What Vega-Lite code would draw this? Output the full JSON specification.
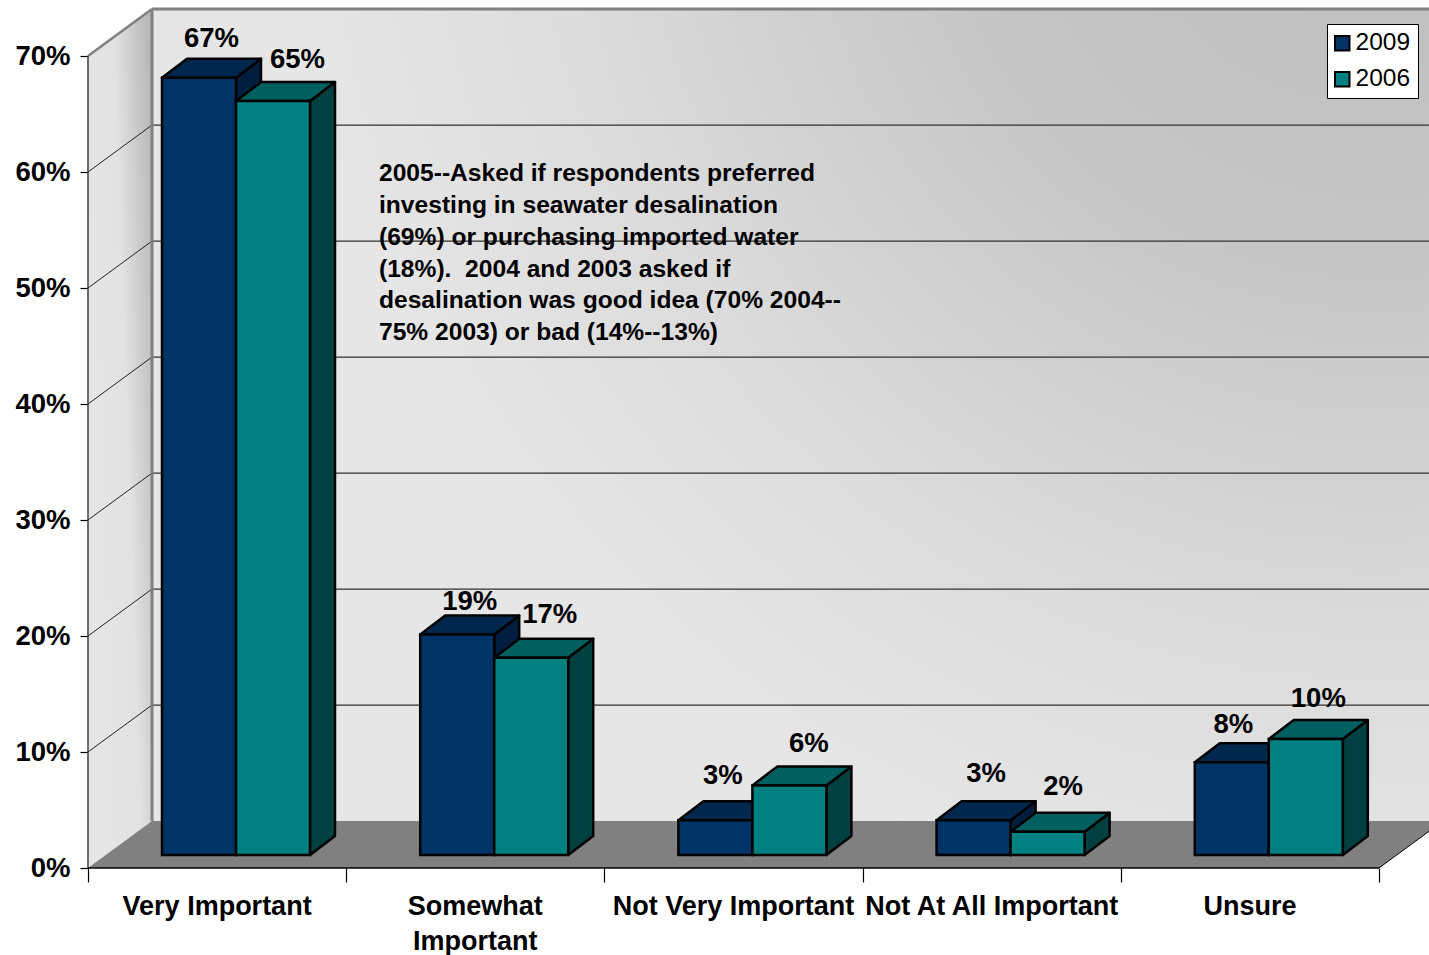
{
"$schema":"https://vega.github.io/schema/vega-lite/v6.json",
"width":1429,"height":955,
"autosize":{"type":"fit","contains":"padding"},
"padding":0,
"background":"white",
"config":{"view":{"stroke":null},"font":"Liberation Sans"},
"datasets":{
"bars":[
{"category":"Very Important","series":"2009","value":67},
{"category":"Very Important","series":"2006","value":65},
{"category":"Somewhat\nImportant","series":"2009","value":19},
{"category":"Somewhat\nImportant","series":"2006","value":17},
{"category":"Not Very Important","series":"2009","value":3},
{"category":"Not Very Important","series":"2006","value":6},
{"category":"Not At All Important","series":"2009","value":3},
{"category":"Not At All Important","series":"2006","value":2},
{"category":"Unsure","series":"2009","value":8},
{"category":"Unsure","series":"2006","value":10}
],
"frame":[{"depth":0},{"depth":1}],
"grid":[{"pct":10},{"pct":20},{"pct":30},{"pct":40},{"pct":50},{"pct":60}],
"cats":[{"category":"Very Important","idx":0},{"category":"Somewhat\nImportant","idx":1},{"category":"Not Very Important","idx":2},{"category":"Not At All Important","idx":3},{"category":"Unsure","idx":4}]
},
"data":{"name":"bars"},
"transform":[
{"calculate":"indexof(['Very Important','Somewhat\\nImportant','Not Very Important','Not At All Important','Unsure'],datum.category)","as":"idx"},
{"calculate":"datum.idx+0.2866+(datum.series==='2009'?0:0.2866)","as":"xl"},
{"calculate":"datum.xl+0.2866","as":"xr"},
{"calculate":"1.12+datum.value","as":"top"},
{"calculate":"[0,1]","as":"tt"},
{"flatten":["tt"]},
{"calculate":"datum.tt*0.0968","as":"dxb"},
{"calculate":"datum.tt*1.638","as":"dyb"},
{"calculate":"datum.xl+datum.dxb","as":"tx1"},
{"calculate":"datum.xr+datum.dxb","as":"tx2"},
{"calculate":"datum.top+datum.dyb","as":"ty"},
{"calculate":"1.12+datum.dyb","as":"by"},
{"calculate":"(datum.xl+datum.xr)/2+0.0484","as":"lx"},
{"calculate":"datum.top+1.638","as":"ly"},
{"calculate":"datum.value+'%'","as":"lab"},
{"calculate":"datum.series+'|'+datum.idx","as":"key"}
],
"layer":[
{"data":{"name":"frame"},
 "transform":[{"filter":"datum.depth===1"}],
 "mark":{"type":"rect","clip":true,"fill":{"gradient":"radial","x1":0.95,"y1":0.05,"r1":0,"x2":0.95,"y2":0.05,"r2":0.85,"stops":[{"offset":0,"color":"#bdbdbd"},{"offset":0.4,"color":"#c6c6c6"},{"offset":0.75,"color":"#dcdcdc"},{"offset":1,"color":"#e6e6e6"}]}},
 "encoding":{
  "x":{"datum":0.2479,"type":"quantitative","scale":{"domain":[-0.3408,5.1936],"nice":false,"zero":false},
    "axis":{"title":null,"values":[0,1,2,3,4,5],"labels":false,"grid":false,"domain":false,"tickColor":"#000000","tickSize":14,"tickWidth":1.2,"offset":-87,"orient":"bottom"}},
  "x2":{"datum":5.2479},
  "y":{"datum":4.05,"type":"quantitative","scale":{"domain":[-7.5,74.83],"nice":false,"zero":false},
    "axis":{"title":null,"values":[0,10,20,30,40,50,60,70],"labelExpr":"datum.value+'%'","grid":false,"domain":false,"tickColor":"#000000","tickSize":8,"tickWidth":1.2,"offset":-88,"orient":"left","labelFont":"Liberation Sans","labelFontWeight":"bold","labelFontSize":27.5,"labelColor":"#000000","labelPadding":10}},
  "y2":{"datum":74.05}
 }},
{"data":{"name":"frame"},
 "transform":[{"calculate":"datum.depth*0.2479","as":"x"},{"calculate":"datum.depth*4.05","as":"y0"},{"calculate":"70+datum.depth*4.05","as":"y1"}],
 "mark":{"type":"area","orient":"vertical","fill":{"gradient":"linear","x1":0,"y1":0.6,"x2":1,"y2":0.15,"stops":[{"offset":0,"color":"#e6e6e6"},{"offset":0.55,"color":"#e2e2e2"},{"offset":1,"color":"#b8b8b8"}]}},
 "encoding":{
  "x":{"field":"x","type":"quantitative","scale":{"domain":[-0.3408,5.1936],"nice":false,"zero":false}},
  "y":{"field":"y0","type":"quantitative","scale":{"domain":[-7.5,74.83],"nice":false,"zero":false}},
  "y2":{"field":"y1"}
 }},
{"data":{"name":"frame"},
 "transform":[{"calculate":"datum.depth*0.2479","as":"x"},{"calculate":"5+datum.depth*0.2479","as":"x1"},{"calculate":"datum.depth*4.05","as":"y0"}],
 "mark":{"type":"area","orient":"horizontal","clip":true,"fill":"#808080"},
 "encoding":{
  "y":{"field":"y0","type":"quantitative","scale":{"domain":[-7.5,74.83],"nice":false,"zero":false}},
  "x":{"field":"x","type":"quantitative","scale":{"domain":[-0.3408,5.1936],"nice":false,"zero":false}},
  "x2":{"field":"x1"}
 }},
{"data":{"name":"grid"},
 "transform":[{"calculate":"datum.pct+4.05","as":"p2"}],
 "mark":{"type":"rule","color":"#202020","strokeWidth":1},
 "encoding":{
  "x":{"datum":0,"type":"quantitative","scale":{"domain":[-0.3408,5.1936],"nice":false,"zero":false}},
  "x2":{"datum":0.2479},
  "y":{"field":"pct","type":"quantitative","scale":{"domain":[-7.5,74.83],"nice":false,"zero":false}},
  "y2":{"field":"p2"}
 }},
{"data":{"name":"grid"},
 "transform":[{"calculate":"datum.pct+4.05","as":"p2"}],
 "mark":{"type":"rule","color":"#303030","strokeWidth":1.2,"clip":true},
 "encoding":{
  "x":{"datum":0.2479,"type":"quantitative","scale":{"domain":[-0.3408,5.1936],"nice":false,"zero":false}},
  "x2":{"datum":5.2479},
  "y":{"field":"p2","type":"quantitative","scale":{"domain":[-7.5,74.83],"nice":false,"zero":false}}
 }},
{"data":{"values":[{"a":1}]},
 "mark":{"type":"rule","color":"#808080","strokeWidth":3,"clip":true},
 "encoding":{
  "x":{"datum":0.2479,"type":"quantitative","scale":{"domain":[-0.3408,5.1936],"nice":false,"zero":false}},
  "x2":{"datum":5.2479},
  "y":{"datum":74.05,"type":"quantitative","scale":{"domain":[-7.5,74.83],"nice":false,"zero":false}}
 }},
{"data":{"values":[{"a":1}]},
 "mark":{"type":"rule","color":"#808080","strokeWidth":3},
 "encoding":{
  "x":{"datum":0.2479,"type":"quantitative","scale":{"domain":[-0.3408,5.1936],"nice":false,"zero":false}},
  "y":{"datum":4.05,"type":"quantitative","scale":{"domain":[-7.5,74.83],"nice":false,"zero":false}},
  "y2":{"datum":74.05}
 }},
{"data":{"values":[{"a":1}]},
 "mark":{"type":"rule","color":"#808080","strokeWidth":2.5},
 "encoding":{
  "x":{"datum":0,"type":"quantitative","scale":{"domain":[-0.3408,5.1936],"nice":false,"zero":false}},
  "x2":{"datum":0.2479},
  "y":{"datum":70,"type":"quantitative","scale":{"domain":[-7.5,74.83],"nice":false,"zero":false}},
  "y2":{"datum":74.05}
 }},
{"data":{"values":[{"a":1}]},
 "mark":{"type":"rule","color":"#404040","strokeWidth":1.5},
 "encoding":{
  "x":{"datum":0,"type":"quantitative","scale":{"domain":[-0.3408,5.1936],"nice":false,"zero":false}},
  "y":{"datum":0,"type":"quantitative","scale":{"domain":[-7.5,74.83],"nice":false,"zero":false}},
  "y2":{"datum":70}
 }},
{"data":{"values":[{"a":1}]},
 "mark":{"type":"rule","color":"#000000","strokeWidth":1.5},
 "encoding":{
  "x":{"datum":0,"type":"quantitative","scale":{"domain":[-0.3408,5.1936],"nice":false,"zero":false}},
  "x2":{"datum":5},
  "y":{"datum":0,"type":"quantitative","scale":{"domain":[-7.5,74.83],"nice":false,"zero":false}}
 }},
{"data":{"values":[{"a":1}]},
 "mark":{"type":"rule","color":"#000000","strokeWidth":1,"clip":true},
 "encoding":{
  "x":{"datum":5,"type":"quantitative","scale":{"domain":[-0.3408,5.1936],"nice":false,"zero":false}},
  "x2":{"datum":5.2479},
  "y":{"datum":0,"type":"quantitative","scale":{"domain":[-7.5,74.83],"nice":false,"zero":false}},
  "y2":{"datum":4.05}
 }},

{"transform":[{"filter":"datum.series==='2009'"}],
 "mark":{"type":"area","orient":"vertical","fill":"#001f40","stroke":"#000000","strokeWidth":2.5,"strokeJoin":"round"},
 "encoding":{"detail":{"field":"category"},
  "x":{"field":"tx2","type":"quantitative","scale":{"domain":[-0.3408,5.1936],"nice":false,"zero":false}},
  "y":{"field":"by","type":"quantitative","scale":{"domain":[-7.5,74.83],"nice":false,"zero":false}},
  "y2":{"field":"ty"}}},
{"transform":[{"filter":"datum.series==='2009'"}],
 "mark":{"type":"area","orient":"horizontal","fill":"#00284f","stroke":"#000000","strokeWidth":2.5,"strokeJoin":"round"},
 "encoding":{"detail":{"field":"category"},
  "y":{"field":"ty","type":"quantitative","scale":{"domain":[-7.5,74.83],"nice":false,"zero":false}},
  "x":{"field":"tx1","type":"quantitative","scale":{"domain":[-0.3408,5.1936],"nice":false,"zero":false}},
  "x2":{"field":"tx2"}}},
{"transform":[{"filter":"datum.series==='2009' && datum.tt===0"}],
 "mark":{"type":"rect","stroke":"#000000","strokeWidth":2.5},
 "encoding":{
  "x":{"field":"xl","type":"quantitative","scale":{"domain":[-0.3408,5.1936],"nice":false,"zero":false}},
  "x2":{"field":"xr"},
  "y":{"field":"top","type":"quantitative","scale":{"domain":[-7.5,74.83],"nice":false,"zero":false}},
  "y2":{"datum":1.12},
  "color":{"field":"series","type":"nominal","scale":{"domain":["2009","2006"],"range":["#003366","#008080"]},
    "legend":{"title":null,"orient":"none","legendX":1327,"legendY":24,"fillColor":"#ffffff","strokeColor":"#000000","padding":7,"symbolType":"square","symbolSize":210,"symbolStrokeColor":"#000000","symbolStrokeWidth":2,"symbolOffset":-4,"labelFont":"Liberation Sans","labelFontSize":24.5,"labelColor":"#000000","labelOffset":1,"rowPadding":11,"symbolOpacity":1}}
 }},
{"transform":[{"filter":"datum.series==='2006'"}],
 "mark":{"type":"area","orient":"vertical","fill":"#004040","stroke":"#000000","strokeWidth":2.5,"strokeJoin":"round"},
 "encoding":{"detail":{"field":"category"},
  "x":{"field":"tx2","type":"quantitative","scale":{"domain":[-0.3408,5.1936],"nice":false,"zero":false}},
  "y":{"field":"by","type":"quantitative","scale":{"domain":[-7.5,74.83],"nice":false,"zero":false}},
  "y2":{"field":"ty"}}},
{"transform":[{"filter":"datum.series==='2006'"}],
 "mark":{"type":"area","orient":"horizontal","fill":"#006060","stroke":"#000000","strokeWidth":2.5,"strokeJoin":"round"},
 "encoding":{"detail":{"field":"category"},
  "y":{"field":"ty","type":"quantitative","scale":{"domain":[-7.5,74.83],"nice":false,"zero":false}},
  "x":{"field":"tx1","type":"quantitative","scale":{"domain":[-0.3408,5.1936],"nice":false,"zero":false}},
  "x2":{"field":"tx2"}}},
{"transform":[{"filter":"datum.series==='2006' && datum.tt===0"}],
 "mark":{"type":"rect","stroke":"#000000","strokeWidth":2.5},
 "encoding":{
  "x":{"field":"xl","type":"quantitative","scale":{"domain":[-0.3408,5.1936],"nice":false,"zero":false}},
  "x2":{"field":"xr"},
  "y":{"field":"top","type":"quantitative","scale":{"domain":[-7.5,74.83],"nice":false,"zero":false}},
  "y2":{"datum":1.12},
  "color":{"field":"series","type":"nominal","scale":{"domain":["2009","2006"],"range":["#003366","#008080"]}}
 }},
{"transform":[{"filter":"datum.tt===0 && datum.key==='2009|0'"}],"mark":{"type":"text","font":"Liberation Sans","fontWeight":"bold","fontSize":27.5,"color":"#000000","baseline":"middle","align":"center","dx":0,"dy":-20},
 "encoding":{"x":{"field":"lx","type":"quantitative","scale":{"domain":[-0.3408,5.1936],"nice":false,"zero":false}},"y":{"field":"ly","type":"quantitative","scale":{"domain":[-7.5,74.83],"nice":false,"zero":false}},"text":{"field":"lab"}}},
{"transform":[{"filter":"datum.tt===0 && datum.key==='2009|1'"}],"mark":{"type":"text","font":"Liberation Sans","fontWeight":"bold","fontSize":27.5,"color":"#000000","baseline":"middle","align":"center","dx":0,"dy":-14},
 "encoding":{"x":{"field":"lx","type":"quantitative","scale":{"domain":[-0.3408,5.1936],"nice":false,"zero":false}},"y":{"field":"ly","type":"quantitative","scale":{"domain":[-7.5,74.83],"nice":false,"zero":false}},"text":{"field":"lab"}}},
{"transform":[{"filter":"datum.tt===0 && datum.key==='2009|2'"}],"mark":{"type":"text","font":"Liberation Sans","fontWeight":"bold","fontSize":27.5,"color":"#000000","baseline":"middle","align":"center","dx":-5,"dy":-25},
 "encoding":{"x":{"field":"lx","type":"quantitative","scale":{"domain":[-0.3408,5.1936],"nice":false,"zero":false}},"y":{"field":"ly","type":"quantitative","scale":{"domain":[-7.5,74.83],"nice":false,"zero":false}},"text":{"field":"lab"}}},
{"transform":[{"filter":"datum.tt===0 && datum.key==='2009|3'"}],"mark":{"type":"text","font":"Liberation Sans","fontWeight":"bold","fontSize":27.5,"color":"#000000","baseline":"middle","align":"center","dx":0,"dy":-27},
 "encoding":{"x":{"field":"lx","type":"quantitative","scale":{"domain":[-0.3408,5.1936],"nice":false,"zero":false}},"y":{"field":"ly","type":"quantitative","scale":{"domain":[-7.5,74.83],"nice":false,"zero":false}},"text":{"field":"lab"}}},
{"transform":[{"filter":"datum.tt===0 && datum.key==='2009|4'"}],"mark":{"type":"text","font":"Liberation Sans","fontWeight":"bold","fontSize":27.5,"color":"#000000","baseline":"middle","align":"center","dx":-11,"dy":-18},
 "encoding":{"x":{"field":"lx","type":"quantitative","scale":{"domain":[-0.3408,5.1936],"nice":false,"zero":false}},"y":{"field":"ly","type":"quantitative","scale":{"domain":[-7.5,74.83],"nice":false,"zero":false}},"text":{"field":"lab"}}},
{"transform":[{"filter":"datum.tt===0 && datum.key==='2006|0'"}],"mark":{"type":"text","font":"Liberation Sans","fontWeight":"bold","fontSize":27.5,"color":"#000000","baseline":"middle","align":"center","dx":12,"dy":-22},
 "encoding":{"x":{"field":"lx","type":"quantitative","scale":{"domain":[-0.3408,5.1936],"nice":false,"zero":false}},"y":{"field":"ly","type":"quantitative","scale":{"domain":[-7.5,74.83],"nice":false,"zero":false}},"text":{"field":"lab"}}},
{"transform":[{"filter":"datum.tt===0 && datum.key==='2006|1'"}],"mark":{"type":"text","font":"Liberation Sans","fontWeight":"bold","fontSize":27.5,"color":"#000000","baseline":"middle","align":"center","dx":6,"dy":-24},
 "encoding":{"x":{"field":"lx","type":"quantitative","scale":{"domain":[-0.3408,5.1936],"nice":false,"zero":false}},"y":{"field":"ly","type":"quantitative","scale":{"domain":[-7.5,74.83],"nice":false,"zero":false}},"text":{"field":"lab"}}},
{"transform":[{"filter":"datum.tt===0 && datum.key==='2006|2'"}],"mark":{"type":"text","font":"Liberation Sans","fontWeight":"bold","fontSize":27.5,"color":"#000000","baseline":"middle","align":"center","dx":7,"dy":-22},
 "encoding":{"x":{"field":"lx","type":"quantitative","scale":{"domain":[-0.3408,5.1936],"nice":false,"zero":false}},"y":{"field":"ly","type":"quantitative","scale":{"domain":[-7.5,74.83],"nice":false,"zero":false}},"text":{"field":"lab"}}},
{"transform":[{"filter":"datum.tt===0 && datum.key==='2006|3'"}],"mark":{"type":"text","font":"Liberation Sans","fontWeight":"bold","fontSize":27.5,"color":"#000000","baseline":"middle","align":"center","dx":3,"dy":-26},
 "encoding":{"x":{"field":"lx","type":"quantitative","scale":{"domain":[-0.3408,5.1936],"nice":false,"zero":false}},"y":{"field":"ly","type":"quantitative","scale":{"domain":[-7.5,74.83],"nice":false,"zero":false}},"text":{"field":"lab"}}},
{"transform":[{"filter":"datum.tt===0 && datum.key==='2006|4'"}],"mark":{"type":"text","font":"Liberation Sans","fontWeight":"bold","fontSize":27.5,"color":"#000000","baseline":"middle","align":"center","dx":0,"dy":-21},
 "encoding":{"x":{"field":"lx","type":"quantitative","scale":{"domain":[-0.3408,5.1936],"nice":false,"zero":false}},"y":{"field":"ly","type":"quantitative","scale":{"domain":[-7.5,74.83],"nice":false,"zero":false}},"text":{"field":"lab"}}},
{"data":{"name":"cats"},
 "transform":[{"calculate":"datum.idx+0.5","as":"cx"}],
 "mark":{"type":"text","font":"Liberation Sans","fontWeight":"bold","fontSize":27,"color":"#000000","baseline":"alphabetic","align":"center","lineBreak":"\n","lineHeight":35},
 "encoding":{
  "x":{"field":"cx","type":"quantitative","scale":{"domain":[-0.3408,5.1936],"nice":false,"zero":false}},
  "y":{"datum":-4.03,"type":"quantitative","scale":{"domain":[-7.5,74.83],"nice":false,"zero":false}},
  "text":{"field":"category"}}},
{"data":{"values":[{"note":"2005--Asked if respondents preferred\ninvesting in seawater desalination\n(69%) or purchasing imported water\n(18%).\u00a0\u00a02004 and 2003 asked if\ndesalination was good idea (70% 2004--\n75% 2003) or bad (14%--13%)"}]},
 "mark":{"type":"text","font":"Liberation Sans","fontWeight":"bold","fontSize":24.6,"color":"#000000","baseline":"alphabetic","align":"left","lineBreak":"\n","lineHeight":31.8},
 "encoding":{
  "x":{"datum":1.127,"type":"quantitative","scale":{"domain":[-0.3408,5.1936],"nice":false,"zero":false}},
  "y":{"datum":59.2,"type":"quantitative","scale":{"domain":[-7.5,74.83],"nice":false,"zero":false}},
  "text":{"field":"note"}}}
]
}
